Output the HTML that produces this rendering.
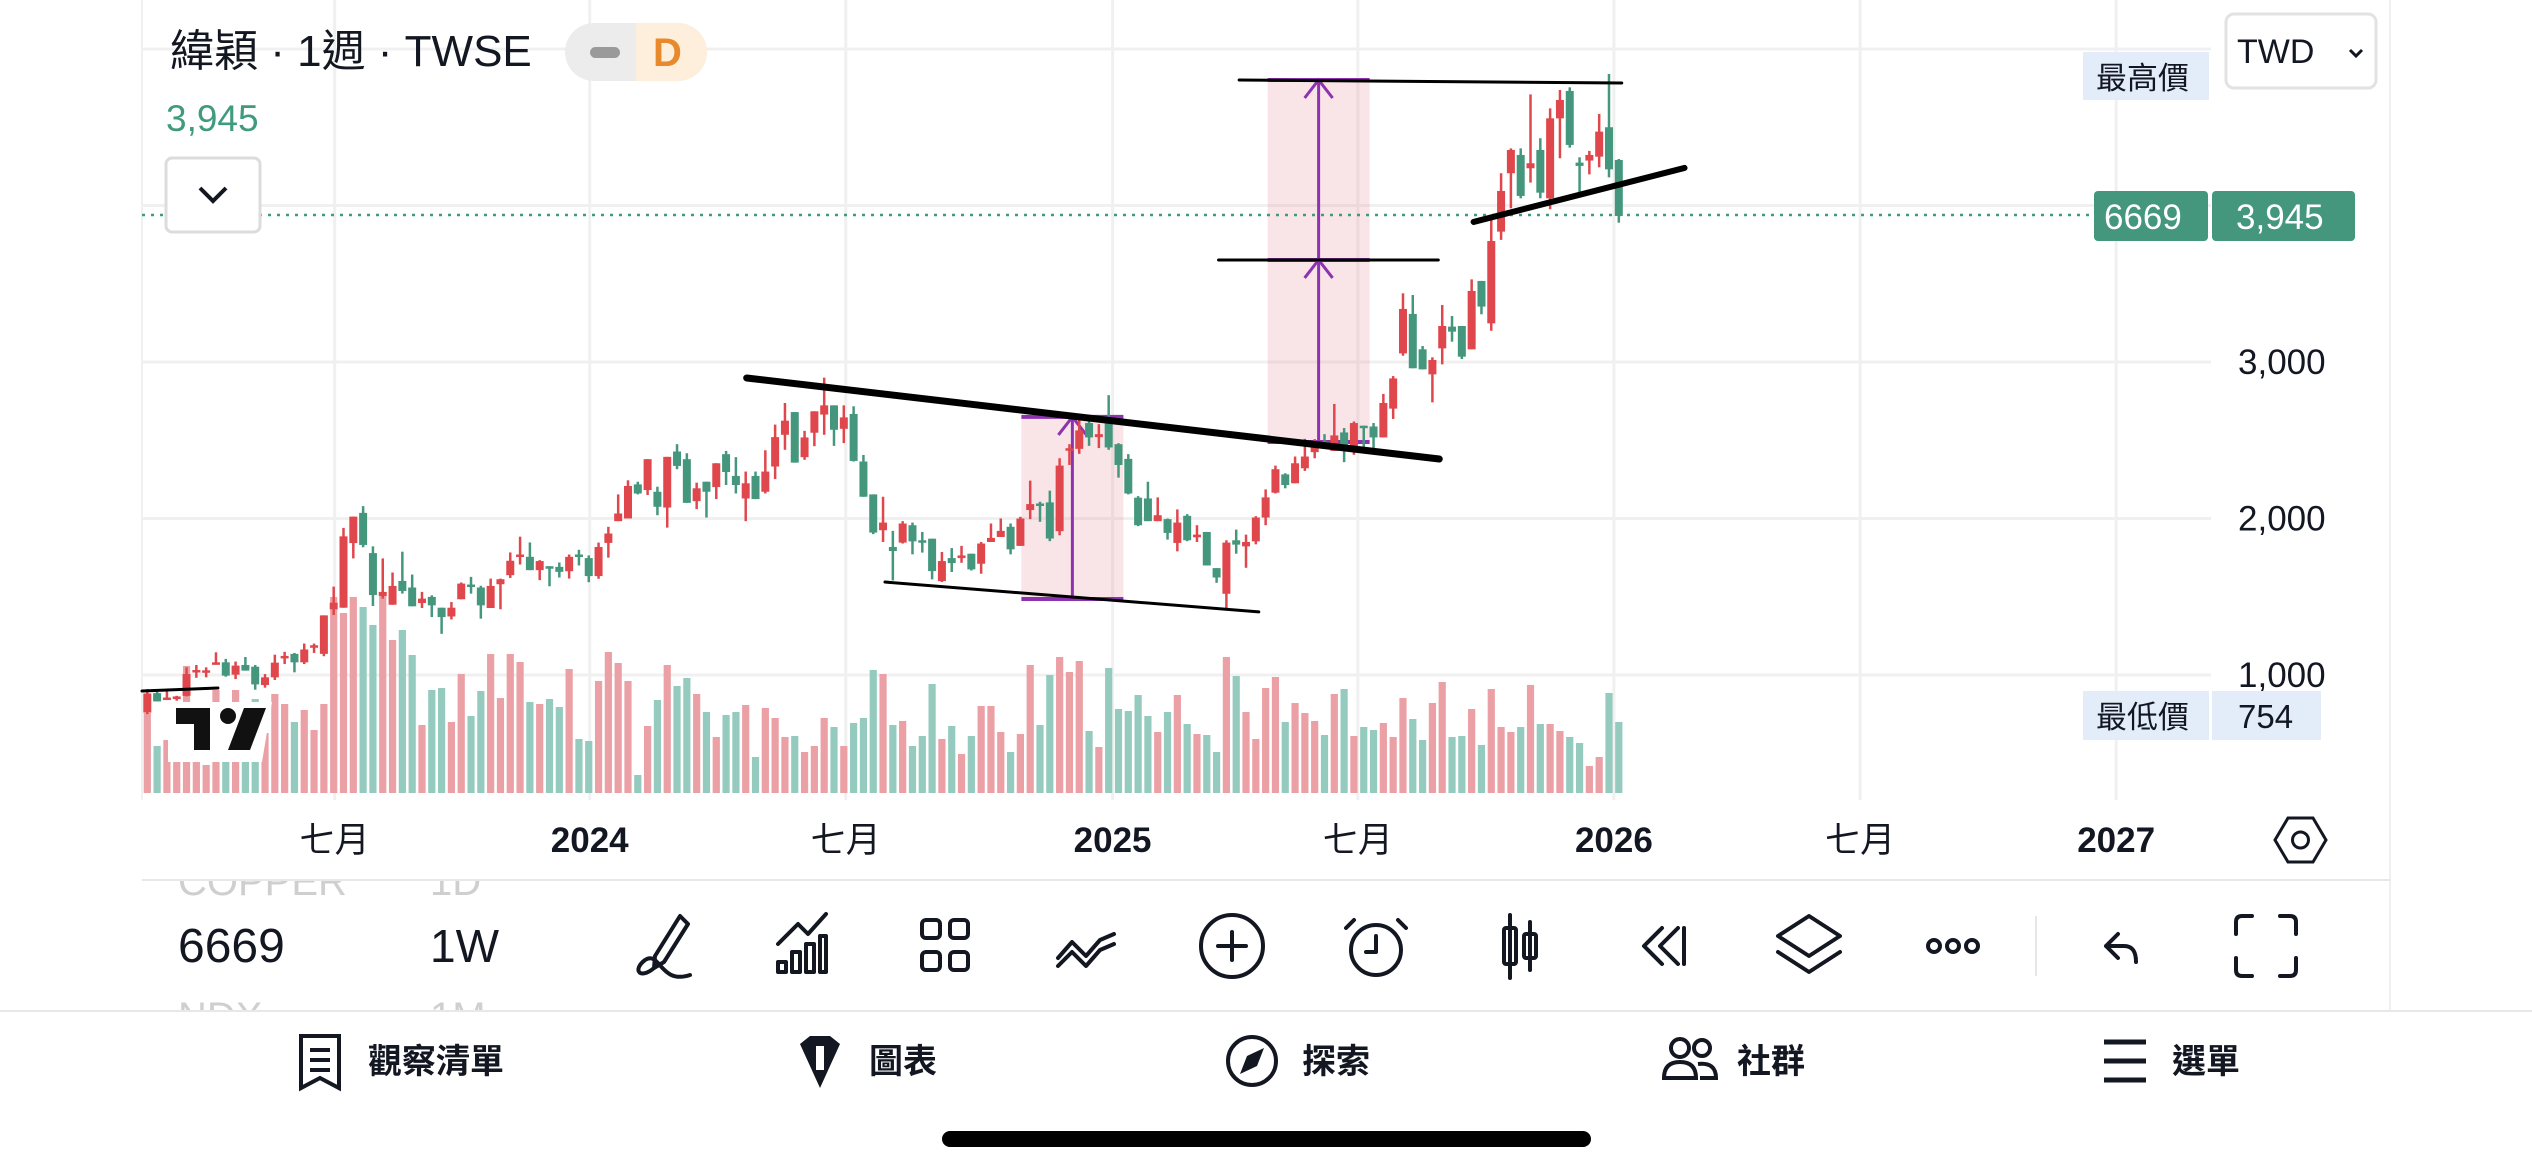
<!DOCTYPE html>
<html><head><meta charset="utf-8"><style>
html,body{margin:0;padding:0;background:#fff;}
svg{display:block;font-family:"Liberation Sans","Noto Sans CJK TC",sans-serif;}
</style></head><body>
<svg id="root" width="2532" height="1170" viewBox="0 0 2532 1170" xmlns="http://www.w3.org/2000/svg">
<defs>
<clipPath id="cpTop"><rect x="0" y="881" width="700" height="40"/></clipPath>
<clipPath id="cpBot"><rect x="0" y="980" width="700" height="30"/></clipPath>
</defs>
<rect width="2532" height="1170" fill="#fff"/>
<g id="grid"></g>
<g id="vol"></g>
<g id="logo">
  <polygon points="168,702 272,702 262,762 168,762" fill="#fff"/>
  <rect x="176" y="708" width="34" height="16" fill="#111"/>
  <rect x="194" y="708" width="16" height="42" fill="#111"/>
  <circle cx="228" cy="716" r="8" fill="#111"/>
  <polygon points="244,708 266,708 250,750 228,750" fill="#111"/>
</g>
<g id="drawBack"></g>
<line x1="142" y1="215" x2="2094" y2="215" stroke="#3f9a7e" stroke-width="2.5" stroke-dasharray="3,6"/>
<g id="candles"></g>
<g id="drawFront"></g>
<g id="yaxis"></g>
<g id="xaxis"></g>

<!-- header -->
<text x="170" y="66" font-size="44" fill="#131722">緯穎 · 1週 · TWSE</text>
<g>
  <rect x="565" y="23" width="142" height="58" rx="29" fill="#ececec"/>
  <path d="M636 23 H678 A29 29 0 0 1 678 81 H636 Z" fill="#fdefdc"/>
  <rect x="590" y="47" width="30" height="11" rx="5.5" fill="#9a9a9a"/>
  <text x="653" y="66" font-size="40" font-weight="bold" fill="#e8892b">D</text>
</g>
<text x="166" y="131" font-size="37" fill="#3f9a7e">3,945</text>
<g>
  <rect x="166" y="158" width="94" height="74" rx="6" fill="#fff" stroke="#dcdcdc" stroke-width="3"/>
  <polyline points="200,188 213,201 226,188" fill="none" stroke="#131722" stroke-width="4"/>
</g>
<g>
  <rect x="2226" y="14" width="150" height="74" rx="8" fill="#fff" stroke="#e2e2e2" stroke-width="3"/>
  <text x="2237" y="63" font-size="34" fill="#131722">TWD</text>
  <polyline points="2350,50 2356,56 2362,50" fill="none" stroke="#131722" stroke-width="3"/>
</g>
<g>
  <rect x="2083" y="52" width="126" height="48" fill="#e3edf9"/>
  <text x="2096" y="89" font-size="31" fill="#131722">最高價</text>
</g>
<g>
  <rect x="2083" y="691" width="126" height="49" fill="#e3edf9"/>
  <text x="2096" y="728" font-size="31" fill="#131722">最低價</text>
  <rect x="2212" y="691" width="109" height="49" fill="#e3edf9"/>
  <text x="2238" y="728" font-size="33" fill="#131722">754</text>
</g>
<g>
  <rect x="2094" y="191" width="114" height="50" rx="4" fill="#44977d"/>
  <rect x="2212" y="191" width="143" height="50" rx="4" fill="#44977d"/>
  <text x="2104" y="229" font-size="35" fill="#fff">6669</text>
  <text x="2236" y="229" font-size="35" fill="#fff">3,945</text>
</g>
<line x1="2390" y1="0" x2="2390" y2="1010" stroke="#f0f0f0" stroke-width="2"/>
<g>
  <polygon points="2288,818 2313,818 2326,840 2313,862 2288,862 2275,840" fill="none" stroke="#131722" stroke-width="3"/>
  <circle cx="2300.5" cy="840" r="8" fill="none" stroke="#131722" stroke-width="3"/>
</g>

<!-- toolbar -->
<line x1="142" y1="880" x2="2391" y2="880" stroke="#e8e8e8" stroke-width="2"/>
<g clip-path="url(#cpTop)" fill="#cfcfcf" font-size="40"><text x="178" y="895">COPPER</text><text x="430" y="895">1D</text></g>
<g clip-path="url(#cpBot)" fill="#cfcfcf" font-size="40"><text x="178" y="1030">NDX</text><text x="430" y="1030">1M</text></g>
<text x="178" y="962" font-size="48" fill="#131722">6669</text>
<text x="430" y="962" font-size="46" fill="#131722">1W</text>
<g fill="none" stroke="#131722" stroke-width="4" stroke-linecap="round" stroke-linejoin="round">
  <g><path d="M680 916 L688 924 L664 962 L654 968 L655 956 Z"/><path d="M654 968 C640 980 632 970 645 960 C660 950 660 985 690 975"/></g>
  <g><path d="M778 944 L798 924 L808 934 L826 914"/><rect x="778" y="962" width="8" height="10"/><rect x="792" y="952" width="8" height="20"/><rect x="806" y="944" width="8" height="28"/><rect x="820" y="936" width="6" height="36"/></g>
  <g><rect x="922" y="920" width="18" height="18" rx="4"/><rect x="950" y="920" width="18" height="18" rx="4"/><rect x="922" y="952" width="18" height="18" rx="4"/><rect x="950" y="952" width="18" height="18" rx="4"/></g>
  <g><path d="M1058 958 L1072 942 L1086 956 L1100 940 L1114 934"/><path d="M1058 966 L1072 952 L1086 966 L1100 950 L1114 944"/></g>
  <g><circle cx="1232" cy="946" r="31"/><path d="M1232 932 V960 M1218 946 H1246"/></g>
  <g><circle cx="1376" cy="950" r="25"/><path d="M1376 936 V952 H1366 M1354 920 L1346 928 M1398 920 L1406 928"/></g>
  <g><path d="M1510 915 V978 M1530 922 V970"/><rect x="1504" y="928" width="12" height="36" rx="2"/><rect x="1524" y="934" width="12" height="24" rx="2"/></g>
  <g><path d="M1662 928 L1644 946 L1662 964 M1678 928 L1660 946 L1678 964"/><path d="M1684 928 V964"/></g>
  <g><path d="M1809 916 L1840 936 L1809 956 L1778 936 Z"/><path d="M1778 952 L1809 972 L1840 952"/></g>
  <g><circle cx="1934" cy="946" r="6"/><circle cx="1953" cy="946" r="6"/><circle cx="1972" cy="946" r="6"/></g>
  <g><path d="M2106 946 L2118 934 M2106 946 L2118 958 M2106 946 H2124 C2134 946 2136 954 2136 962"/></g>
  <g><path d="M2236 934 V922 Q2236 916 2242 916 H2252 M2280 916 H2290 Q2296 916 2296 922 V934 M2296 958 V970 Q2296 976 2290 976 H2280 M2252 976 H2242 Q2236 976 2236 970 V958"/></g>
</g>
<line x1="2036" y1="916" x2="2036" y2="976" stroke="#e6e6e6" stroke-width="2"/>
<line x1="0" y1="1011" x2="2532" y2="1011" stroke="#e8e8e8" stroke-width="2"/>

<!-- bottom nav -->
<g font-size="34" font-weight="bold" fill="#131722">
  <g>
    <path d="M301 1036 H339 V1088 L320 1078 L301 1088 Z" fill="none" stroke="#131722" stroke-width="4"/>
    <path d="M310 1050 H330 M310 1060 H330 M310 1070 H330" stroke="#131722" stroke-width="4"/>
    <text x="368" y="1073">觀察清單</text>
  </g>
  <g>
    <path d="M800 1044 L810 1036 H830 L840 1044 L820 1088 Z" fill="#131722"/>
    <rect x="816" y="1046" width="8" height="24" fill="#fff"/>
    <text x="869" y="1073">圖表</text>
  </g>
  <g>
    <circle cx="1252" cy="1061" r="24" fill="none" stroke="#131722" stroke-width="4"/>
    <path d="M1264 1048 L1257 1066 L1240 1074 L1247 1056 Z" fill="#131722"/>
    <text x="1302" y="1073">探索</text>
  </g>
  <g>
    <circle cx="1680" cy="1048" r="9" fill="none" stroke="#131722" stroke-width="4"/>
    <circle cx="1702" cy="1048" r="8" fill="none" stroke="#131722" stroke-width="4"/>
    <path d="M1664 1078 Q1664 1062 1680 1062 Q1696 1062 1696 1078 Z M1698 1064 Q1716 1062 1716 1078 H1700" fill="none" stroke="#131722" stroke-width="4"/>
    <text x="1737" y="1073">社群</text>
  </g>
  <g>
    <path d="M2104 1042 H2146 M2104 1061 H2146 M2104 1080 H2146" stroke="#131722" stroke-width="5"/>
    <text x="2172" y="1073">選單</text>
  </g>
</g>
<rect x="942" y="1131" width="649" height="16" rx="8" fill="#000"/>
</svg>
<script>
const opens=[760,884,846,846,867,1017,1017,1066,1081,1002,1064,1053,936,985,1109,1135,1081,1178,1135,1420,1430,1843,2036,1779,1505,1449,1601,1559,1460,1499,1430,1374,1484,1578,1559,1428,1580,1638,1755,1755,1670,1695,1691,1663,1770,1747,1632,1844,1983,2000,2218,2182,2171,2070,2428,2379,2111,2235,2201,2411,2272,2128,2272,2171,2332,2535,2680,2392,2548,2664,2723,2573,2668,2364,2154,1925,1818,1846,1957,1861,1871,1600,1747,1747,1775,1711,1850,1882,1947,1825,2054,2096,2103,1919,2437,2445,2610,2520,2610,2475,2381,2133,2128,1983,1996,1844,2017,1880,1914,1683,1519,1861,1822,1854,2006,2165,2282,2225,2321,2424,2492,2432,2550,2449,2593,2588,2518,2702,3055,3307,3081,2921,3087,3226,3230,3081,3518,3247,3833,4206,4323,4238,4355,4046,4557,4732,4274,4287,4312,4500,4291];
const highs=[910,892,900,867,1049,1064,1049,1145,1103,1086,1115,1064,1006,1130,1148,1141,1201,1201,1381,1565,1940,2012,2079,1822,1745,1655,1788,1642,1531,1509,1430,1466,1591,1627,1570,1616,1616,1783,1884,1847,1734,1695,1719,1770,1800,1764,1846,1947,2154,2244,2235,2379,2203,2394,2475,2417,2229,2235,2353,2432,2392,2300,2300,2436,2600,2738,2680,2560,2685,2900,2723,2723,2717,2406,2154,2139,1921,1983,1974,1914,1871,1786,1811,1825,1775,1850,1968,2000,1968,2011,2242,2107,2178,2385,2475,2642,2625,2603,2788,2481,2411,2143,2235,2135,2000,2058,2028,1957,1914,1683,1861,1929,1897,2015,2186,2338,2289,2396,2509,2507,2539,2732,2578,2620,2593,2610,2796,2910,3439,3428,3102,3030,3364,3294,3230,3528,3518,3939,4206,4365,4365,4710,4430,4621,4738,4755,4308,4349,4585,4840,4297];
const lows=[750,831,840,836,863,982,985,1066,989,974,1028,906,919,968,1070,1017,1070,1141,1120,1383,1430,1745,1816,1441,1488,1449,1520,1439,1428,1370,1263,1355,1484,1520,1360,1428,1420,1620,1706,1670,1606,1567,1623,1616,1700,1593,1615,1750,1983,2000,2154,2150,2021,1942,2315,2100,2060,2006,2124,2214,2160,1983,2124,2160,2252,2439,2357,2375,2462,2535,2464,2482,2364,2139,1900,1850,1604,1840,1771,1782,1611,1594,1658,1717,1668,1647,1850,1882,1771,1825,1996,1979,1855,1893,2342,2413,2464,2450,2439,2261,2154,1951,1983,1983,1865,1790,1855,1850,1700,1589,1422,1775,1685,1835,1957,2160,2193,2225,2304,2385,2454,2432,2360,2407,2456,2421,2518,2636,3040,2960,2953,2742,2985,3130,3019,3081,3305,3200,3780,3982,4046,4146,4046,3976,4302,4370,4078,4199,4244,4180,3890];
const closes=[882,831,856,863,1006,1032,1030,1081,996,1060,1028,940,985,1079,1122,1081,1163,1190,1381,1462,1886,2012,1831,1511,1531,1569,1537,1439,1488,1445,1370,1430,1584,1565,1445,1569,1612,1730,1770,1670,1728,1687,1659,1755,1755,1632,1818,1904,2032,2208,2160,2379,2075,2394,2336,2100,2193,2171,2353,2297,2214,2225,2124,2300,2520,2625,2357,2518,2685,2723,2567,2646,2368,2139,1910,1974,1792,1968,1854,1846,1664,1728,1715,1764,1675,1840,1876,1921,1803,2000,2092,2086,1872,2338,2449,2563,2518,2539,2454,2342,2160,1957,1983,2021,1908,1974,1861,1897,1700,1623,1846,1833,1850,2006,2135,2315,2214,2353,2396,2496,2460,2531,2449,2610,2582,2518,2738,2895,3339,2960,2953,3013,3230,3194,3034,3454,3354,3773,4093,4355,4061,4270,4082,4557,4674,4387,4253,4323,4472,4231,3933];
const volumes=[80,47,53,59,127,50,28,103,45,103,45,94,60,99,89,71,83,63,89,196,180,196,186,168,197,153,163,138,68,103,105,71,119,77,102,139,95,139,131,91,89,94,86,124,54,52,112,141,130,112,18,67,93,128,107,115,99,81,56,78,81,88,36,85,75,56,57,41,47,75,66,47,70,75,123,119,68,72,47,57,109,54,67,39,57,87,87,61,41,59,128,68,118,136,121,132,62,46,125,84,82,98,77,61,81,98,69,59,58,41,136,117,81,54,105,116,71,90,80,72,58,99,104,57,66,63,70,56,95,74,53,90,111,56,57,84,48,104,66,61,66,108,69,69,62,56,50,27,36,100,71];
const priceTicks=[1000,2000,3000,4000,5000];
const priceTickLabels=["1,000","2,000","3,000","",""];
const timeTickPos=[19.1,45.1,71.2,98.4,123.4,149.5,174.6,200.7];
const timeTickLabels=["七月","2024","七月","2025","七月","2026","七月","2027"];
const timeTickBold=[false,true,false,true,false,true,false,true];
const trendLines=[[-0.54,898,7.2,917,3],[61.1,2898,131.7,2380,7],[75.2,1594,113.3,1403,3],[111.3,4802,150.3,4783,3],[109.2,3652,131.6,3652,3],[135.2,3895,156.7,4240,6]];
const rangeBox1=[89.1,99.5,2649,1486];
const rangeBox2=[114.2,124.6,4802,2489,3652];

const NS="http://www.w3.org/2000/svg";
const X0=147.3, DX=9.81;
function xS(i){return X0+i*DX;}
function yS(p){return 675-(p-1000)*0.1565;}
const VB=793;
function vS(v){return v*1.0;}
function mk(tag,attrs,parent){const e=document.createElementNS(NS,tag);for(const k in attrs)e.setAttribute(k,attrs[k]);parent.appendChild(e);return e;}

const grid=document.getElementById('grid');
priceTicks.forEach((p,i)=>{
  const l=mk('line',{x1:142,x2:2211,y1:yS(p),y2:yS(p),stroke:'#f0f0f0','stroke-width':3},grid);
  
  
});
timeTickPos.forEach((t,i)=>{
  const l=mk('line',{x1:xS(t),x2:xS(t),y1:0,y2:800,stroke:'#f0f0f0','stroke-width':3},grid);
  
  
});
mk('line',{x1:142,x2:142,y1:0,y2:800,stroke:'#f0f0f0','stroke-width':2},grid);

const yax=document.getElementById('yaxis');
priceTicks.forEach((p,i)=>{
  if(!priceTickLabels[i])return;
  const t=mk('text',{x:2238,y:yS(p)+12,'font-size':35,fill:'#131722'},yax);
  t.textContent=priceTickLabels[i];
  
  
});
const xax=document.getElementById('xaxis');
timeTickPos.forEach((t,i)=>{
  const e=mk('text',{x:xS(t),y:852,'font-size':35,'text-anchor':'middle',fill:'#131722','font-weight':timeTickBold[i]?'bold':'normal'},xax);
  e.textContent=timeTickLabels[i];
  
  
});

const RED='#e0474c', GRN='#44977d', RV='#eba0a5', GV='#95cbbe';
const vol=document.getElementById('vol');
const cg=document.getElementById('candles');
closes.forEach((c,i)=>{
  const o=opens[i],up=c>=o,x=xS(i);
  const h=vS(volumes[i]);
  const vb=mk('rect',{x:x-3.6,y:VB-h,width:7.2,height:h,fill:up?RV:GV},vol);
  
  
  const g=mk('g',{},cg);
  
  
  mk('line',{x1:x,x2:x,y1:yS(highs[i]),y2:yS(lows[i]),stroke:up?RED:GRN,'stroke-width':2.5},g);
  const top=yS(Math.max(o,c)),bot=yS(Math.min(o,c));
  mk('rect',{x:x-4,y:top,width:8,height:Math.max(2.5,bot-top),fill:up?RED:GRN},g);
});

const db=document.getElementById('drawBack');
function rangeBox(b,mid){
  const x1=xS(b[0]),x2=xS(b[1]),yt=yS(b[2]),yb=yS(b[3]),xc=(x1+x2)/2;
  const g=mk('g',{},db);
  
  
  mk('rect',{x:x1,y:yt,width:x2-x1,height:yb-yt,fill:'rgba(225,120,140,0.2)'},g);
  mk('line',{x1:xc,x2:xc,y1:yt,y2:yb,stroke:'#8e33b0','stroke-width':3},g);
  const ys=[yt];if(mid!==undefined)ys.push(yS(mid));
  mk('line',{x1:x1,x2:x2,y1:yt,y2:yt,stroke:'#8e33b0','stroke-width':4},g);
  mk('line',{x1:x1,x2:x2,y1:yb,y2:yb,stroke:'#8e33b0','stroke-width':4},g);
  ys.forEach(y=>{mk('polyline',{points:`${xc-14},${y+18} ${xc},${y} ${xc+14},${y+18}`,fill:'none',stroke:'#8e33b0','stroke-width':3},g);});
  if(mid!==undefined)mk('line',{x1:x1,x2:x2,y1:yS(mid),y2:yS(mid),stroke:'#8e33b0','stroke-width':4},g);
}
rangeBox(rangeBox1);
rangeBox(rangeBox2,rangeBox2[4]);

const df=document.getElementById('drawFront');
trendLines.forEach(t=>{
  const l=mk('line',{x1:xS(t[0]),y1:yS(t[1]),x2:xS(t[2]),y2:yS(t[3]),stroke:'#000','stroke-width':t[4],'stroke-linecap':'round'},df);
  
  
});
</script>
</body></html>
